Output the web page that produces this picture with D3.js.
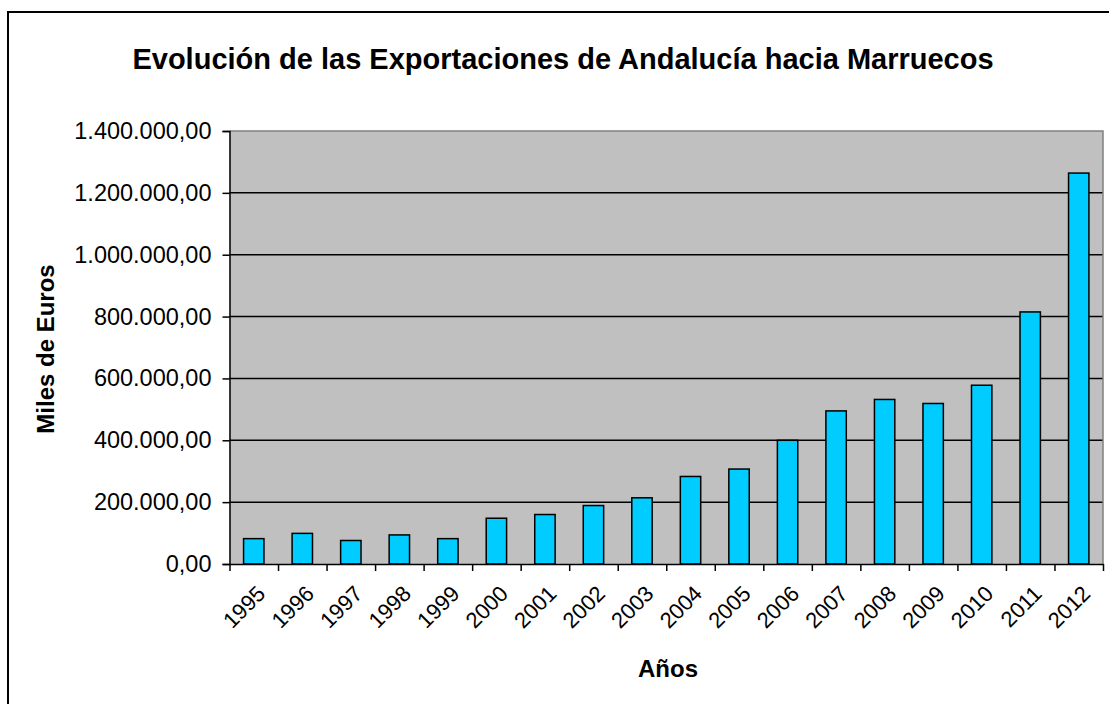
<!DOCTYPE html>
<html>
<head>
<meta charset="utf-8">
<script src="https://cdn.jsdelivr.net/npm/d3@7"></script>
<style>
  body { margin: 0; background: #fff; }
  text { font-family: "Liberation Sans", Arial, sans-serif; fill: #000; }
</style>
</head>
<body>
<svg id="chart"></svg>
<script>
// data (miles de euros)
var years = ["1995","1996","1997","1998","1999","2000","2001","2002","2003",
             "2004","2005","2006","2007","2008","2009","2010","2011","2012"];
var exportaciones = [82000, 99000, 76000, 94000, 82000, 148000, 160000, 189000, 214000,
                     283000, 307000, 400000, 495000, 532000, 519000, 578000, 815000, 1264000];
var yTicks = [0, 200000, 400000, 600000, 800000, 1000000, 1200000, 1400000];

var titulo = "Evolución de las Exportaciones de Andalucía hacia Marruecos";
var tituloY = "Miles de Euros";
var tituloX = "Años";

var screen = {width: 1109, height: 704};
var plot = {left: 229.5, right: 1103, top: 131, bottom: 564};

var svg = d3.select("#chart")
    .attr("width", screen.width)
    .attr("height", screen.height);

// outer frame (runs off the right/bottom edges)
svg.append("rect")
    .attr("x", 8).attr("y", 12)
    .attr("width", 1130).attr("height", 720)
    .attr("fill", "#fff")
    .attr("stroke", "#000")
    .attr("stroke-width", 2);

var es = d3.formatLocale({decimal: ",", thousands: ".", grouping: [3], currency: ["", ""]});
var fmt = es.format(",.2f");

var x = d3.scaleBand()
    .domain(years)
    .range([plot.left, plot.right])
    .paddingInner(0.58)
    .paddingOuter(0.29);

var xEdges = d3.scaleLinear()
    .domain([0, years.length])
    .range([plot.left, plot.right]);

var y = d3.scaleLinear()
    .domain([0, 1400000])
    .range([plot.bottom, plot.top]);

// plot background
svg.append("rect")
    .attr("x", plot.left).attr("y", plot.top)
    .attr("width", plot.right - plot.left)
    .attr("height", plot.bottom - plot.top)
    .attr("fill", "#c0c0c0");

// grid lines
svg.append("g")
    .selectAll("line")
    .data(yTicks.slice(1, -1))
    .enter()
    .append("line")
    .attr("x1", plot.left).attr("x2", plot.right)
    .attr("y1", function(d){ return y(d); })
    .attr("y2", function(d){ return y(d); })
    .attr("stroke", "#000")
    .attr("stroke-width", 1.5);

// top + right border in grey
svg.append("path")
    .attr("d", "M" + plot.left + "," + plot.top + "H" + plot.right + "V" + plot.bottom)
    .attr("fill", "none")
    .attr("stroke", "#808080")
    .attr("stroke-width", 1.5);

// bars
svg.append("g")
    .selectAll("rect")
    .data(exportaciones)
    .enter()
    .append("rect")
    .attr("x", function(d, i){ return x(years[i]); })
    .attr("y", function(d){ return y(d); })
    .attr("width", x.bandwidth())
    .attr("height", function(d){ return y(0) - y(d); })
    .attr("fill", "#00ccff")
    .attr("stroke", "#000")
    .attr("stroke-width", 1.5);

// y axis
var yAxis = svg.append("g")
    .attr("transform", "translate(" + plot.left + ",0)")
    .call(d3.axisLeft(y).tickValues(yTicks).tickFormat(fmt).tickSize(7).tickPadding(11));
yAxis.select(".domain").attr("stroke", "#000").attr("stroke-width", 1.5);
yAxis.selectAll(".tick line").attr("stroke", "#000").attr("stroke-width", 1.5);
yAxis.selectAll("text")
    .attr("font-size", 23.5)
    .attr("font-family", "Liberation Sans, Arial, sans-serif");

// x axis (ticks on the band edges)
var xAxis = svg.append("g")
    .attr("transform", "translate(0," + plot.bottom + ")")
    .call(d3.axisBottom(xEdges).tickValues(d3.range(years.length + 1)).tickFormat("").tickSize(7).tickSizeOuter(0));
xAxis.select(".domain").attr("stroke", "#000").attr("stroke-width", 1.5);
xAxis.selectAll(".tick line").attr("stroke", "#000").attr("stroke-width", 1.5);

svg.append("g")
    .selectAll("text")
    .data(years)
    .enter()
    .append("text")
    .attr("transform", function(d){
        var cx = x(d) + x.bandwidth() / 2 + 13;
        return "translate(" + cx + "," + (plot.bottom + 31) + ") rotate(-45)";
    })
    .attr("text-anchor", "end")
    .attr("font-size", 22)
    .text(function(d){ return d; });

// titles
svg.append("text")
    .attr("x", 563).attr("y", 69)
    .attr("text-anchor", "middle")
    .attr("font-size", 29)
    .attr("font-weight", "bold")
    .text(titulo);

svg.append("text")
    .attr("transform", "translate(54,349) rotate(-90)")
    .attr("text-anchor", "middle")
    .attr("font-size", 24)
    .attr("font-weight", "bold")
    .text(tituloY);

svg.append("text")
    .attr("x", 668).attr("y", 677)
    .attr("text-anchor", "middle")
    .attr("font-size", 24)
    .attr("font-weight", "bold")
    .text(tituloX);
</script>
</body>
</html>
